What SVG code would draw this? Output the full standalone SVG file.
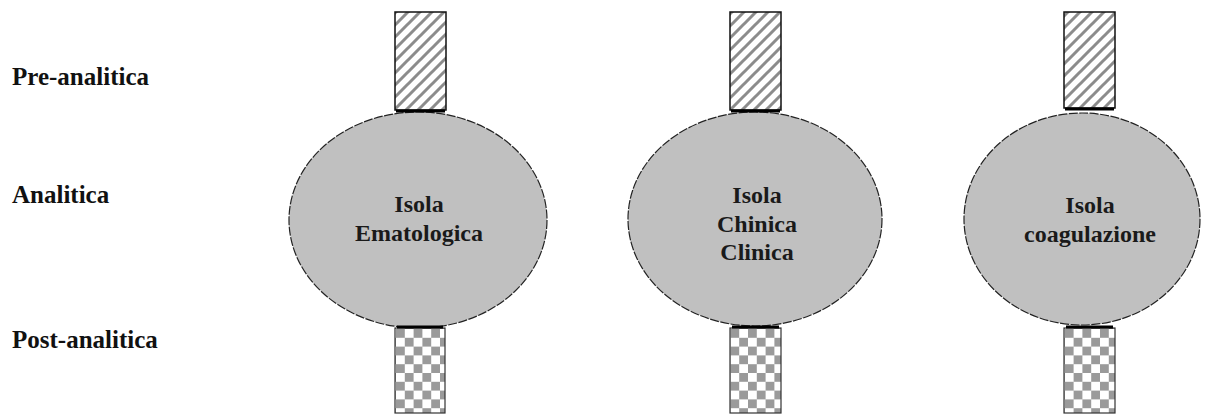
<svg xmlns="http://www.w3.org/2000/svg" width="1213" height="414" viewBox="0 0 1213 414">
<style>
.lbl{font-family:"Liberation Serif","Times New Roman",serif;font-weight:bold;font-size:25px;fill:#111}
.in{font-family:"Liberation Serif","Times New Roman",serif;font-weight:bold;font-size:24px;fill:#1a1a1a;text-anchor:middle}
.isl{fill:#c0c0c0;stroke:#222;stroke-width:1.2;stroke-dasharray:9 1.5}
.pre{fill:url(#hatch);stroke:#111;stroke-width:1.5}
.post{fill:url(#check);stroke:#333;stroke-width:1.2}
.join{stroke:#000;stroke-width:3}
</style>
<defs>
<pattern id="hatch" patternUnits="userSpaceOnUse" width="12" height="12">
<rect width="12" height="12" fill="#fff"/>
<path d="M-3,3 L3,-3 M0,12 L12,0 M9,15 L15,9" stroke="#8c8c8c" stroke-width="3"/>
</pattern>
<pattern id="check" patternUnits="userSpaceOnUse" x="396" y="329" width="17.6" height="17.6">
<rect width="17.6" height="17.6" fill="#fff"/>
<rect width="8.8" height="8.8" fill="#9a9a9a"/>
<rect x="8.8" y="8.8" width="8.8" height="8.8" fill="#9a9a9a"/>
</pattern>
</defs>
<rect width="1213" height="414" fill="#fff"/>
<g id="labels">
<text class="lbl" x="12" y="85">Pre-analitica</text>
<text class="lbl" x="12" y="203">Analitica</text>
<text class="lbl" x="12" y="348">Post-analitica</text>
</g>
<g id="connectors"></g>
<g id="isola-ematologica">
<rect class="pre" x="395" y="12" width="51" height="98"/>
<ellipse class="isl" cx="418" cy="220" rx="129" ry="108"/>
<rect class="post" x="395" y="328" width="50" height="85"/>
<line class="join" x1="396" y1="111" x2="445" y2="111"/>
<line class="join" x1="397" y1="327" x2="443" y2="327"/>
<text class="in" x="419" y="212">Isola</text>
<text class="in" x="419" y="241">Ematologica</text>
</g>
<g id="isola-clinica">
<rect class="pre" x="730" y="12" width="51" height="98"/>
<ellipse class="isl" cx="755" cy="219" rx="127" ry="107"/>
<rect class="post" x="730" y="328" width="51" height="85"/>
<line class="join" x1="731" y1="111" x2="780" y2="111"/>
<line class="join" x1="732" y1="327" x2="779" y2="327"/>
<text class="in" x="757" y="203">Isola</text>
<text class="in" x="757" y="232">Chinica</text>
<text class="in" x="757" y="260">Clinica</text>
</g>
<g id="isola-coagulazione">
<rect class="pre" x="1064" y="12" width="51" height="96"/>
<ellipse class="isl" cx="1082" cy="219" rx="118" ry="106"/>
<rect class="post" x="1064" y="328" width="51" height="85"/>
<line class="join" x1="1065" y1="109" x2="1114" y2="109"/>
<line class="join" x1="1066" y1="327" x2="1113" y2="327"/>
<text class="in" x="1090" y="213">Isola</text>
<text class="in" x="1090" y="242">coagulazione</text>
</g>
</svg>
